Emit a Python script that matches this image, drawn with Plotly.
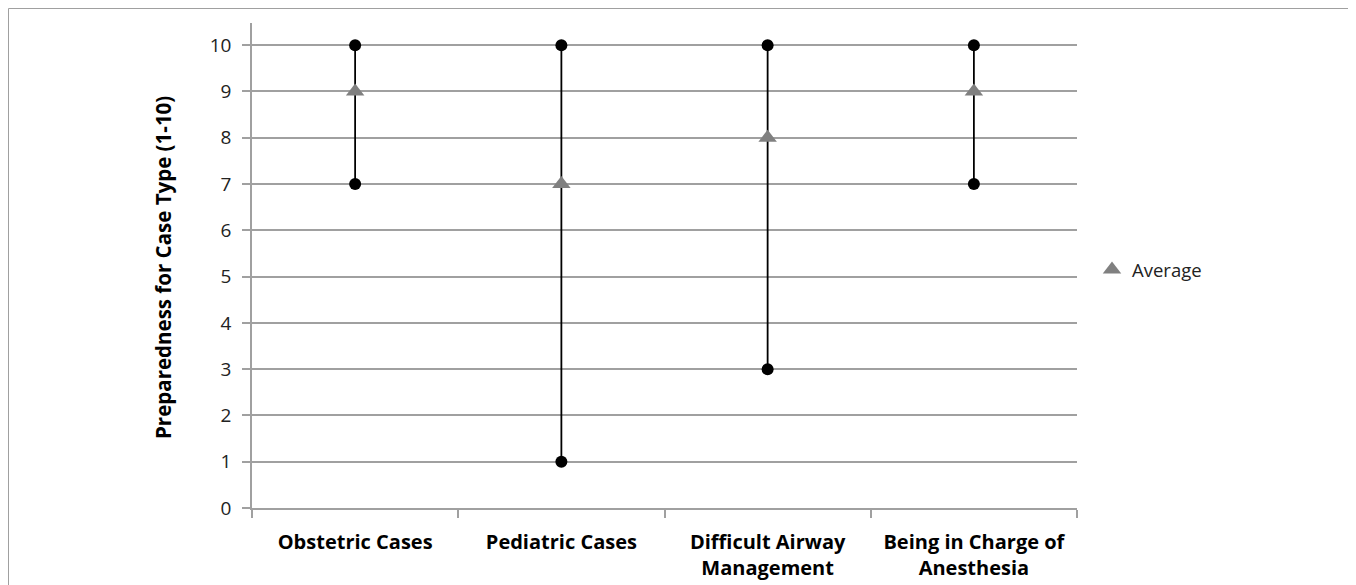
import plotly.graph_objects as go

categories = ["Obstetric Cases", "Pediatric Cases", "Difficult Airway<br>Management", "Being in Charge of<br>Anesthesia"]
max_vals = [10, 10, 10, 10]
min_vals = [7, 1, 3, 7]
avg_vals = [9, 7, 8, 9]
y_ticks = list(range(0, 11))

# page body adds an ~8px offset; work in figure coordinates
OFF = 8
W, H = 1356 - OFF, 585 - OFF
L, T = 252 - OFF, 23 - OFF
pw, ph = 825, 485
R = W - L - pw
B = H - T - ph

def px_x(sx):
    return (sx - OFF - L) / pw

def px_y(sy):
    return (T + ph - (sy - OFF)) / ph

fig = go.Figure()

lx, ly = [], []
for c, lo, hi in zip(categories, min_vals, max_vals):
    lx += [c, c, None]
    ly += [lo, hi, None]
fig.add_trace(go.Scatter(x=lx, y=ly, mode="lines", line=dict(color="black", width=1.8),
                         showlegend=False, hoverinfo="skip"))
fig.add_trace(go.Scatter(x=categories, y=max_vals, mode="markers",
                         marker=dict(symbol="circle", size=12, color="black"), showlegend=False))
fig.add_trace(go.Scatter(x=categories, y=min_vals, mode="markers",
                         marker=dict(symbol="circle", size=12, color="black"), showlegend=False))
fig.add_trace(go.Scatter(x=categories, y=avg_vals, mode="markers", name="Average",
                         marker=dict(symbol="triangle-up", size=16, color="#808080")))

font_family = "Open Sans, Liberation Sans, sans-serif"

fig.update_layout(
    width=W, height=H,
    margin=dict(l=L, r=R, t=T, b=B, autoexpand=False),
    paper_bgcolor="white", plot_bgcolor="white",
    font=dict(family=font_family, size=18, color="#222222"),
    legend=dict(x=px_x(1092), y=px_y(270), xanchor="left", yanchor="middle",
                font=dict(size=18.5, color="#222222"), itemwidth=30, tracegroupgap=0),
    xaxis=dict(type="category", categoryorder="array", categoryarray=categories,
               range=[-0.5, 3.5], tickson="boundaries", ticks="outside", ticklen=8,
               tickcolor="#a0a0a0", tickwidth=1.5, showgrid=False, showline=True, linecolor="#a0a0a0",
               linewidth=1.5, tickfont=dict(size=20, color="black", weight="bold"),
               ticklabelstandoff=15, zeroline=False, automargin=False),
    yaxis=dict(range=[0, 10.48], tickvals=y_ticks, ticks="outside", ticklen=8,
               tickcolor="#a0a0a0", tickwidth=1.5, showgrid=True, gridcolor="#a0a0a0", gridwidth=1.5,
               showline=True, linecolor="#a0a0a0", linewidth=1.5, zeroline=False,
               ticklabelstandoff=7, automargin=False,
               tickfont=dict(size=19, color="#222222")),
    annotations=[dict(text="<b>Preparedness for Case Type (1-10)</b>", xref="paper", yref="paper",
                      x=px_x(163), y=px_y(268), textangle=-90, showarrow=False,
                      font=dict(size=20.5, color="black"), xanchor="center", yanchor="middle")],
    shapes=[dict(type="rect", xref="paper", yref="paper",
                 x0=px_x(8.5), x1=px_x(1352), y0=px_y(620), y1=px_y(8.5),
                 line=dict(color="#a0a0a0", width=1), layer="below")],
)

fig.write_html("out.html")
